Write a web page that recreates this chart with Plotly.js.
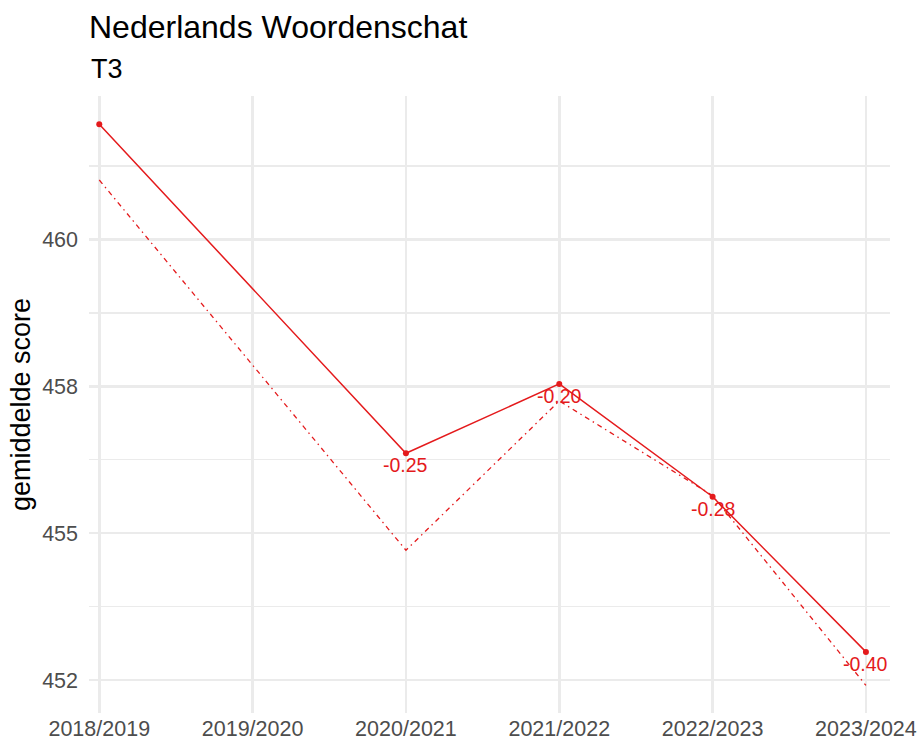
<!DOCTYPE html>
<html>
<head>
<meta charset="utf-8">
<script src="https://cdn.plot.ly/plotly-3.0.1.min.js"></script>
<style>html,body{margin:0;padding:0;background:#fff;}#chart{width:919px;height:742px;}</style>
</head>
<body>
<div id="chart"></div>
<script>
// Data
const categories = ["2018/2019", "2019/2020", "2020/2021", "2021/2022", "2022/2023", "2023/2024"];
const years = ["2018/2019", "2020/2021", "2021/2022", "2022/2023", "2023/2024"];
const scoreObserved = [461.96, 456.36, 457.54, 455.62, 452.98];
const scoreExpected = [461.01, 454.71, 457.25, 455.64, 452.41];
const labelYears = ["2020/2021", "2021/2022", "2022/2023", "2023/2024"];
const labelValues = [456.36, 457.54, 455.62, 452.98];
const labelTexts = ["-0.25", "-0.20", "-0.28", "-0.40"];
const yTickVals = [452.5, 455, 457.5, 460];
const yTickText = ["452", "455", "458", "460"];

const red = "#E41A1C";
const FONT = "Liberation Sans, Arial, sans-serif";

const traces = [
  {
    x: years, y: scoreExpected, type: "scatter", mode: "lines",
    line: {color: red, width: 1.3, dash: "5px,4px,1.5px,4px"},
    hoverinfo: "skip", showlegend: false
  },
  {
    x: years, y: scoreObserved, type: "scatter", mode: "lines+markers",
    line: {color: red, width: 1.5},
    marker: {color: red, size: 6},
    showlegend: false
  }
];

const annotations = labelYears.map((yr, i) => ({
  x: yr, y: labelValues[i], xref: "x", yref: "y",
  text: labelTexts[i], showarrow: false,
  xanchor: "center", yanchor: "middle", yshift: -12,
  font: {family: FONT, size: 19.5, color: red}
}));
annotations.push({
  text: "T3", xref: "paper", yref: "paper", x: 0, y: 1, xanchor: "left", yanchor: "bottom",
  xshift: 0, yshift: 10, showarrow: false,
  font: {family: FONT, size: 27, color: "#000"}
});

const layout = {
  width: 919, height: 742,
  margin: {l: 89, r: 29, t: 96, b: 29},
  paper_bgcolor: "#fff", plot_bgcolor: "#fff",
  font: {family: FONT},
  title: {
    text: "Nederlands Woordenschat",
    x: 0, xref: "paper", xanchor: "left",
    y: 1 - 27 / 742, yref: "container", yanchor: "middle",
    font: {family: FONT, size: 32, color: "#000"}
  },
  xaxis: {
    type: "category", categoryorder: "array", categoryarray: categories,
    range: [-0.067, 5.157],
    showgrid: true, gridcolor: "#EBEBEB", gridwidth: 2.5,
    zeroline: false, showline: false, ticks: "",
    tickfont: {family: FONT, size: 21.5, color: "#4D4D4D"},
    automargin: false
  },
  yaxis: {
    range: [451.94, 462.44],
    tickvals: yTickVals, ticktext: yTickText,
    showgrid: true, gridcolor: "#EBEBEB", gridwidth: 2.5,
    minor: {tick0: 453.75, dtick: 2.5, showgrid: true, gridcolor: "#EBEBEB", gridwidth: 1.4, ticks: ""},
    zeroline: false, showline: false, ticks: "",
    ticklabelstandoff: 10,
    tickfont: {family: FONT, size: 21.5, color: "#4D4D4D"},
    title: {text: "gemiddelde score", font: {family: FONT, size: 27, color: "#000"}, standoff: 3},
    automargin: false
  },
  annotations: annotations,
  showlegend: false
};

Plotly.newPlot("chart", traces, layout, {displayModeBar: false, staticPlot: true});
</script>
</body>
</html>
